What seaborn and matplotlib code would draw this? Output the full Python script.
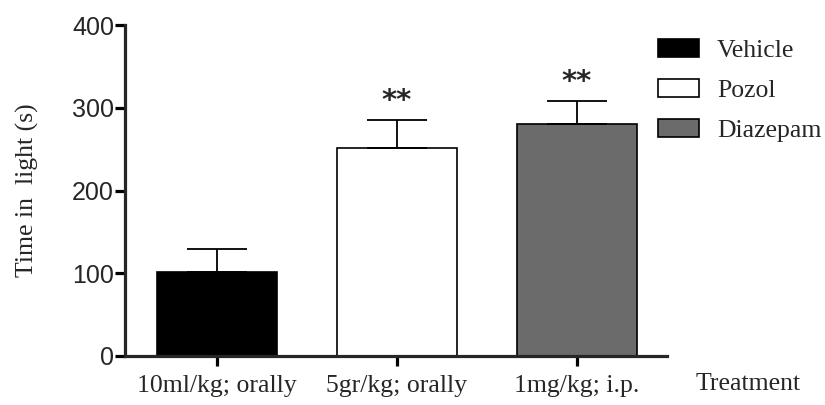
import pandas as pd
import numpy as np
import matplotlib
matplotlib.use('Agg')
import matplotlib.pyplot as plt
import seaborn as sns

# Data
doses = ['10ml/kg; orally', '5gr/kg; orally', '1mg/kg; i.p.']
groups = ['Vehicle', 'Pozol', 'Diazepam']
means = [102, 251, 281]
sem = [27, 34, 27]
stars = ['', '**', '**']
colors = ['#000000', '#ffffff', '#6b6b6b']

df = pd.DataFrame({'dose': doses, 'group': groups, 'time': means})

sns.set_style("ticks")
serif = ['Liberation Serif', 'DejaVu Serif']
sans = ['Liberation Sans', 'DejaVu Sans']

fig = plt.figure(figsize=(8.25, 4.05), dpi=100)
ax = fig.add_axes([0.1515, 0.121, 0.657, 0.817])

sns.barplot(data=df, x='dose', y='time', hue='group', hue_order=groups,
            palette=dict(zip(groups, colors)), dodge=False, width=0.667,
            errorbar=None, edgecolor='black', linewidth=1.2, ax=ax)

# one-sided (upper) error bars
ax.errorbar(np.arange(len(means)), means, yerr=[np.zeros(len(sem)), sem],
            fmt='none', ecolor='black', elinewidth=1.3, capsize=21.5,
            capthick=1.3, zorder=1)

for i, s in enumerate(stars):
    if s:
        ax.text(i, means[i] + sem[i] + 6, s, ha='center', va='bottom',
                fontsize=21, family=['DejaVu Sans'], fontweight='bold')

ax.set_xlim(-0.51, 2.5)
ax.set_ylim(0, 400)
ax.set_yticks([0, 100, 200, 300, 400])
sns.despine(ax=ax)
for sp in ['left', 'bottom']:
    ax.spines[sp].set_linewidth(2.3)
ax.tick_params(axis='both', width=2.3, length=7, color='black')
ax.tick_params(axis='y', labelsize=18, pad=1)
ax.tick_params(axis='x', labelsize=18.5, pad=7)
for lab in ax.get_yticklabels():
    lab.set_family(sans)
for lab in ax.get_xticklabels():
    lab.set_family(serif)

ax.set_ylabel('Time in  light (s)', family=serif, fontsize=18.5, labelpad=24)
ax.set_xlabel('Treatment', family=serif, fontsize=18.5, ha='left', va='center')
ax.xaxis.set_label_coords(1.053, -0.085)

handles, labels = ax.get_legend_handles_labels()
ax.legend(handles, labels, loc='upper left', bbox_to_anchor=(0.785, 0.93),
          bbox_transform=fig.transFigure, frameon=False,
          prop={'family': serif, 'size': 18.5}, handlelength=1.6,
          handleheight=0.7, handletextpad=0.7, labelspacing=0.66,
          borderaxespad=0)

fig.savefig('out.png', dpi=100)
